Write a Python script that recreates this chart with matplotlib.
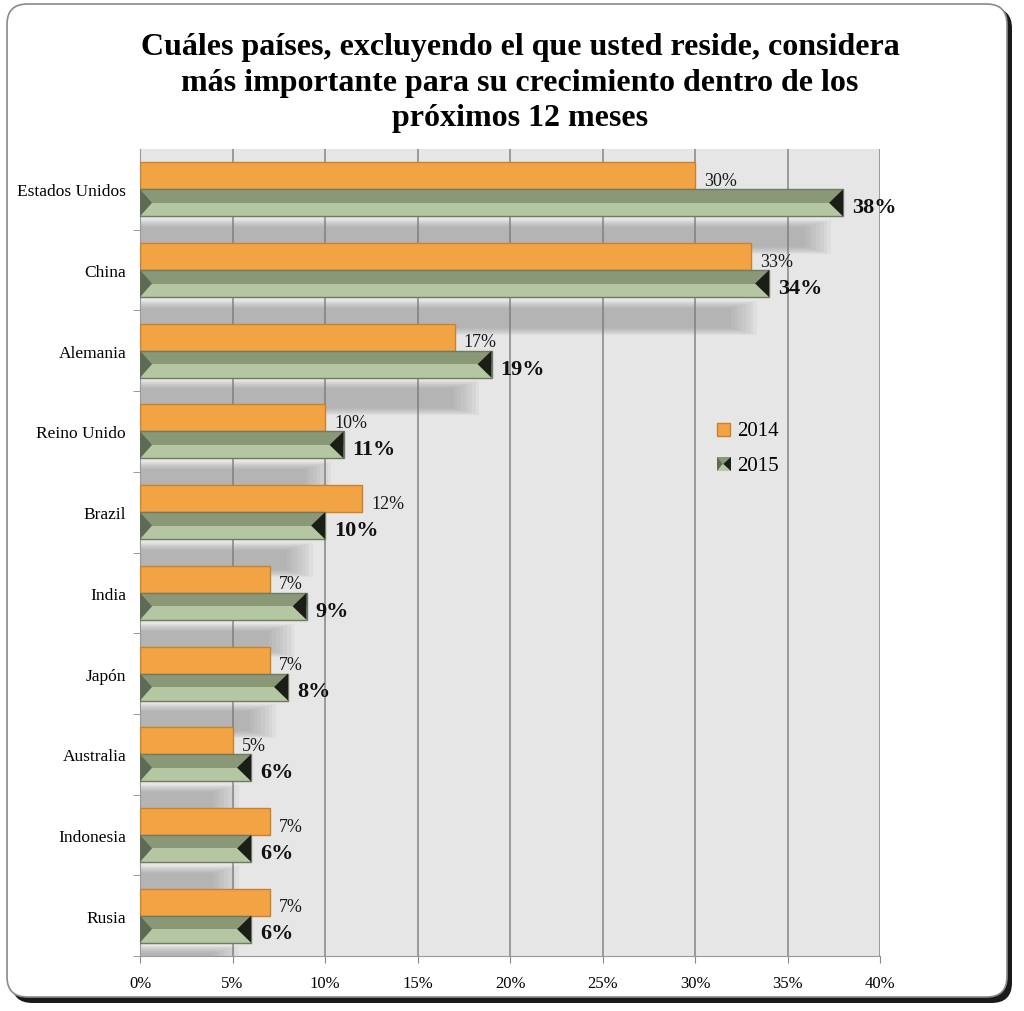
import matplotlib
matplotlib.use("Agg")
import matplotlib.pyplot as plt
from matplotlib.patches import FancyBboxPatch, Polygon, Rectangle
import numpy as np

categories = ["Estados Unidos", "China", "Alemania", "Reino Unido", "Brazil",
              "India", "Japón", "Australia", "Indonesia", "Rusia"]
v2014 = [30, 33, 17, 10, 12, 7, 7, 5, 7, 7]
v2015 = [38, 34, 19, 11, 10, 9, 8, 6, 6, 6]
series_names = ["2014", "2015"]
xticks = [0, 5, 10, 15, 20, 25, 30, 35, 40]
title = "Cuáles países, excluyendo el que usted reside, considera\nmás importante para su crecimiento dentro de los\npróximos 12 meses"

SERIF = ["Liberation Serif", "DejaVu Serif"]
plt.rcParams['font.family'] = SERIF

W, H = 1024, 1012
fig = plt.figure(figsize=(W / 100, H / 100), dpi=100)
fig.patch.set_facecolor("white")

def fx(px): return px / W
def fy(py): return 1 - py / H
shadow = FancyBboxPatch((fx(12), fy(1004)), fx(1000), (1004 - 9) / H,
                        boxstyle="round,pad=0,rounding_size=0.02",
                        transform=fig.transFigure, facecolor="#1a1a1a",
                        edgecolor="none", zorder=0)
fig.patches.append(shadow)
frame = FancyBboxPatch((fx(7), fy(998)), fx(1000), (998 - 5) / H,
                       boxstyle="round,pad=0,rounding_size=0.02",
                       transform=fig.transFigure, facecolor="white",
                       edgecolor="#8a8a8a", linewidth=1.2, zorder=1)
fig.patches.append(frame)

ax = fig.add_axes([140 / W, 1 - 957 / H, (880 - 140) / W, (957 - 150) / H])
ax.set_zorder(2)
ax.set_facecolor("#e6e6e6")
n = len(categories)
ax.set_xlim(0, 40)
ax.set_ylim(n - 0.5, -0.5)

for x in xticks[1:]:
    ax.axvline(x, color="#8c8c8c", linewidth=1.2, zorder=1)

bh = 0.334
y = np.arange(n)

# blurred shadows of green bars
for i in range(n):
    ext = v2015[i] - 1.0
    yc = i + 0.59
    for k in range(8):
        w = ext + 0.35 - 0.2 * k
        hh = 0.42 - 0.025 * k
        ax.barh(yc, w, left=0.0, height=hh, color="#808080", alpha=0.075,
                linewidth=0, zorder=1.5)

# 2014 bars
ax.barh(y - bh / 2, v2014, height=bh, color="#f2a444", edgecolor="#c9812f",
        linewidth=1.0, zorder=3)

# 2015 bars: two-tone with bevel ends
for i in range(n):
    v = v2015[i]
    top = i
    bot = i + bh
    mid = i + bh / 2
    ax.barh(i + bh / 4, v, height=bh / 2, color="#8a9878", linewidth=0, zorder=3)
    ax.barh(i + 3 * bh / 4, v, height=bh / 2, color="#b5c6a3", linewidth=0, zorder=3)
    ax.add_patch(Rectangle((0, top), v, bh, fill=False, edgecolor="#6e7a62",
                           linewidth=1.0, zorder=4))
    ax.add_patch(Polygon([(0, top), (0.65, mid), (0, bot)], closed=True,
                         facecolor="#5e6b54", edgecolor="none", zorder=4))
    ax.add_patch(Polygon([(v, top), (v - 0.75, mid), (v, bot)], closed=True,
                         facecolor="#1b1d17", edgecolor="none", zorder=4))

# labels
for i in range(n):
    ax.text(v2014[i] + 0.5, i - 0.11, f"{v2014[i]}%", fontsize=13,
            ha="left", va="center", color="#1a1a1a", zorder=6)
    ax.text(v2015[i] + 0.5, i + 0.22, f"{v2015[i]}%", fontsize=16,
            fontweight="bold", ha="left", va="center", color="#111111", zorder=6)

ax.set_yticks(np.arange(n))
ax.set_yticklabels(categories, fontsize=12.5)
ax.set_yticks(np.arange(n) + 0.5, minor=True)
ax.tick_params(axis="y", which="major", length=0, pad=10)
ax.tick_params(axis="y", which="minor", length=5, color="#888888")
ax.set_xticks(xticks)
ax.set_xticklabels([f"{x}%" for x in xticks], fontsize=12)
ax.tick_params(axis="x", length=5, color="#888888", pad=9)
for s in ["top", "right"]:
    ax.spines[s].set_visible(False)
for s in ["left", "bottom"]:
    ax.spines[s].set_color("#999999")

# legend (manual, axes coords)
lx = (717 - 140) / 740
ax.add_patch(Rectangle((lx, 1 - (437 - 150) / 807), 13 / 740, 13 / 807,
                       transform=ax.transAxes, facecolor="#f2a444",
                       edgecolor="#c9812f", linewidth=1, zorder=6))
ax.text(lx + 20 / 740, 1 - (432 - 150) / 807, series_names[0], transform=ax.transAxes,
        fontsize=15, va="center", ha="left", zorder=6)
gy0 = 1 - (472 - 150) / 807
gw, gh = 14 / 740, 14 / 807
ax.add_patch(Rectangle((lx, gy0), gw, gh / 2, transform=ax.transAxes,
                       facecolor="#b5c6a3", edgecolor="none", zorder=6))
ax.add_patch(Rectangle((lx, gy0 + gh / 2), gw, gh / 2, transform=ax.transAxes,
                       facecolor="#8a9878", edgecolor="none", zorder=6))
ax.add_patch(Polygon([(lx + gw, gy0), (lx + gw * 0.45, gy0 + gh / 2), (lx + gw, gy0 + gh)],
                     closed=True, transform=ax.transAxes, facecolor="#1b1d17",
                     edgecolor="none", zorder=7))
ax.add_patch(Polygon([(lx, gy0), (lx + gw * 0.4, gy0 + gh / 2), (lx, gy0 + gh)],
                     closed=True, transform=ax.transAxes, facecolor="#5e6b54",
                     edgecolor="none", zorder=7))
ax.text(lx + 20 / 740, 1 - (467 - 150) / 807, series_names[1], transform=ax.transAxes,
        fontsize=15, va="center", ha="left", zorder=6)

fig.text(520 / W, 1 - 83 / H, title, ha="center", va="center", fontsize=23,
         fontweight="bold", linespacing=1.28, zorder=5)

fig.savefig("out.png", dpi=100)
